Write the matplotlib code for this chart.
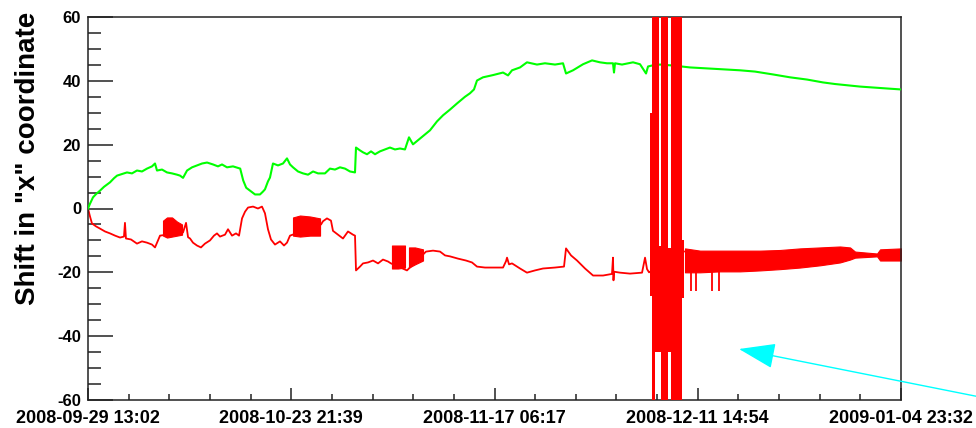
import matplotlib
matplotlib.use("Agg")
import matplotlib.pyplot as plt
from matplotlib.ticker import FixedLocator, MultipleLocator
from datetime import datetime, timedelta

plt.rcParams['font.family'] = ['Liberation Sans', 'DejaVu Sans']
plt.rcParams['axes.unicode_minus'] = False

# time axis: days since the first sample
t_start = datetime(2008, 9, 29, 13, 2)
t_span = 97.4375
n_major = 4

# green trace
green_day = [0, 0.24, 0.60, 0.96, 1.44, 1.92, 2.64, 3.12, 3.48, 4.07, 4.67, 5.27, 5.87, 6.47,
             7.07, 7.67, 8.03, 8.27, 8.87, 9.47, 10.07, 10.67, 11.03, 11.39, 11.87, 12.47,
             13.07, 13.67, 14.27, 14.98, 15.58, 16.06, 16.66, 17.38, 18.24, 18.60, 18.96,
             19.42, 20.02, 20.61, 20.97, 21.21, 21.57, 21.81, 22.17, 22.77, 23.37, 23.85,
             24.21, 24.57, 25.17, 25.77, 26.37, 26.97, 27.57, 28.40, 29.00, 29.60, 30.20,
             30.80, 31.40, 32.00, 32.12, 32.60, 32.96, 33.44, 33.92, 34.40, 34.99, 35.59,
             36.19, 36.79, 37.39, 37.99, 38.47, 38.95, 39.79, 40.99, 41.83, 42.55, 43.39,
             44.22, 45.18, 45.78, 46.26, 46.62, 47.34, 48.54, 49.74, 50.34, 50.82, 51.78,
             52.61, 53.81, 54.77, 55.97, 56.93, 57.29, 58.13, 59.33, 60.41, 61.36, 62.20,
             62.92, 63.04, 63.16, 64.00, 65.32, 66.16, 66.88, 67.12, 67.60, 68.55, 70.11,
             72.14, 74.18, 76.10, 78.14, 79.94, 82.10, 84.14, 86.18, 88.09, 89.53, 90.97,
             92.53, 94.09, 95.77, 97.44]
green_val = [0, 1.5, 3.5, 4.5, 5.6, 6.8, 8.2, 9.5, 10.3, 10.8, 11.3, 11.0, 11.9, 11.6,
             12.5, 13.2, 14.1, 11.9, 12.2, 11.3, 11.0, 10.6, 10.3, 9.6, 11.9, 12.9,
             13.5, 14.1, 14.4, 13.8, 13.2, 13.8, 12.9, 13.2, 12.5, 8.8, 6.5,
             5.6, 4.4, 4.4, 5.3, 6.0, 8.5, 9.7, 14.1, 13.5, 14.1, 15.7,
             13.8, 12.9, 11.6, 11.0, 10.6, 11.6, 11.0, 11.0, 12.5, 12.2, 12.9,
             12.5, 11.6, 11.3, 19.1, 18.2, 17.6, 17.0, 17.9, 17.0, 17.9, 18.5,
             19.1, 18.5, 18.8, 18.5, 22.3, 20.1, 21.9, 24.5, 27.3, 29.2, 31.0,
             32.9, 35.0, 36.1, 37.3, 40.1, 41.1, 41.8, 42.6, 41.7, 43.3, 44.2,
             45.8, 45.1, 45.5, 45.1, 45.5, 42.3, 43.3, 45.2, 46.4, 45.8, 45.5,
             45.5, 42.6, 45.5, 45.1, 45.8, 45.2, 42.3, 44.5, 44.8, 45.1, 44.8,
             44.2, 43.9, 43.6, 43.3, 42.9, 42.0, 41.1, 40.4, 39.5, 39.0, 38.6,
             38.2, 37.9, 37.6, 37.3]

# red trace (single line part)
red_day = [0, 0.24, 0.48, 0.96, 1.44, 2.04, 2.64, 3.24, 3.84, 4.31, 4.43, 4.55, 5.15, 5.87,
           6.47, 7.07, 7.67, 8.03, 8.39, 8.63, 11.39, 11.75, 11.99, 12.23, 12.58, 13.06,
           13.54, 14.02, 14.62, 15.10, 15.46, 15.82, 16.42, 16.78, 17.26, 17.74, 18.10,
           18.46, 18.82, 19.18, 19.78, 20.37, 20.85, 21.21, 21.57, 21.93, 22.41, 23.01,
           23.49, 23.85, 24.21, 27.93, 28.16, 28.64, 29.12, 29.36, 29.96, 30.56, 31.16,
           31.76, 32.00, 32.12, 32.60, 32.96, 33.56, 34.16, 34.76, 35.35, 35.95, 36.31,
           38.23, 40.51, 41.35, 42.19, 42.79, 43.39, 44.34, 45.30, 46.02, 46.62, 47.58,
           49.74, 50.10, 50.22, 50.46, 50.82, 51.78, 52.61, 53.57, 54.53, 55.97, 57.05,
           57.29, 57.89, 58.61, 59.57, 60.53, 61.73, 62.80, 62.92, 62.98, 63.04, 63.76,
           64.96, 66.40, 66.64, 66.76, 67.00, 67.24, 71.43]
red_val = [0, -2.5, -4.7, -5.6, -6.3, -7.2, -7.8, -8.5, -9.1, -8.8, -4.5, -9.4, -9.7, -11.0,
           -10.3, -10.7, -11.3, -12.2, -10.0, -8.5, -7.5, -4.5, -9.0, -9.4, -10.7, -11.6,
           -12.2, -11.0, -10.0, -8.5, -7.8, -8.8, -8.2, -6.5, -8.5, -7.8, -8.5,
           -3.1, -1.0, 0.3, 0.6, 0.0, 0.6, -1.5, -6.5, -9.7, -11.3, -10.3,
           -11.6, -10.7, -8.5, -5.0, -4.0, -3.1, -3.8, -7.0, -8.2, -9.4, -7.2,
           -8.2, -8.5, -19.4, -18.2, -17.2, -16.9, -16.3, -17.2, -16.0, -16.6, -17.2,
           -19.4, -13.5, -13.2, -13.5, -14.7, -15.0, -15.7, -16.3, -16.9, -18.2, -18.5,
           -18.5, -16.5, -15.4, -17.5, -17.2, -18.8, -20.1, -19.4, -18.8, -18.5, -18.2,
           -12.5, -14.7, -16.3, -18.8, -21.0, -21.0, -20.5, -15.4, -22.5, -19.8, -20.1,
           -20.4, -20.1, -17.0, -15.4, -19.0, -20.0, -13.5]

# red: densely oscillating stretches, given as min / max envelopes
band_day = [[8.99, 9.47, 10.07, 10.67, 11.27],
            [24.57, 25.41, 26.61, 27.81],
            [36.43, 37.15, 37.99],
            [38.47, 39.19, 40.15],
            [71.55, 73.35, 75.74, 78.14, 80.54, 82.94, 85.33, 87.73, 90.13, 91.33, 91.93,
             94.57, 94.93, 97.44]]
band_lo = [[-8.5, -9.1, -8.8, -8.5, -8.2],
           [-8.5, -8.8, -8.5, -8.5],
           [-18.8, -18.8, -18.5],
           [-18.5, -17.5, -16.3],
           [-20.0, -20.0, -19.7, -19.7, -19.4, -19.0, -18.5, -17.8, -16.9, -16.0, -15.4,
            -15.0, -16.3, -16.3]]
band_hi = [[-3.8, -2.8, -2.8, -4.1, -5.0],
           [-2.8, -2.2, -2.5, -3.1],
           [-11.6, -11.6, -11.6],
           [-12.2, -12.2, -12.8],
           [-12.5, -13.2, -13.2, -13.2, -13.2, -13.0, -12.5, -12.2, -11.9, -12.2, -13.5,
            -14.1, -12.8, -12.5]]

# red: downward spikes after the blow-up
spike_day = [72.27, 72.87, 74.79, 75.62]
spike_lo = [-26.0, -26.0, -25.7, -25.7]
spike_hi = [-19.0, -19.0, -19.0, -19.0]

# red: the blow-up around 2008-12-08 (start day, end day, min, max)
osc_day0 = [67.36, 67.60, 67.96, 68.44, 68.68, 69.52, 69.88, 71.19]
osc_day1 = [67.60, 67.96, 68.44, 68.68, 69.52, 69.88, 71.19, 71.43]
osc_lo = [-27.3, -70, -45, -45, -70, -45, -70, -28]
osc_hi = [29.8, 70, 70, -11.6, 70, -12.5, 70, -10]

W, H = 976, 428
fig = plt.figure(figsize=(W / 100, H / 100), dpi=100)
ax = fig.add_axes([88 / W, 1 - 400 / H, (901 - 88) / W, (400 - 17) / H])

red = '#ff0000'
green = '#00ff00'

ax.plot(green_day, green_val, color=green, lw=1.5, zorder=3)
ax.plot(red_day, red_val, color=red, lw=1.3, zorder=2)
for bx, blo, bhi in zip(band_day, band_lo, band_hi):
    ax.fill_between(bx, blo, bhi, color=red, lw=0.8, zorder=2)
ax.vlines(spike_day, spike_lo, spike_hi, color=red, lw=1.3, zorder=2)
widths = [b - a for a, b in zip(osc_day0, osc_day1)]
heights = [h - l for l, h in zip(osc_lo, osc_hi)]
ax.bar(osc_day0, heights, width=widths, bottom=osc_lo, align='edge',
       color=red, lw=0, zorder=4)

ax.set_xlim(0, t_span)
ax.set_ylim(-60, 60)

major = [t_span * i / n_major for i in range(n_major + 1)]
ax.xaxis.set_major_locator(FixedLocator(major))
ax.xaxis.set_minor_locator(MultipleLocator(t_span / n_major / 5))
ax.set_xticklabels([(t_start + timedelta(days=d)).strftime('%Y-%m-%d %H:%M') for d in major])
ax.yaxis.set_major_locator(MultipleLocator(20))
ax.yaxis.set_minor_locator(MultipleLocator(5))

for lab in ax.get_xticklabels():
    lab.set_fontweight('bold')
    lab.set_fontsize(13)
for lab in ax.get_yticklabels():
    lab.set_fontweight('bold')
    lab.set_fontsize(12)

ax.tick_params(which='both', direction='in', width=1.1, color='#222222',
               top=False, right=False)
ax.tick_params(axis='y', which='major', length=18, pad=5)
ax.tick_params(axis='y', which='minor', length=9.4)
ax.tick_params(axis='x', which='major', length=8.6, pad=7)
ax.tick_params(axis='x', which='minor', length=4.3)
for sp in ax.spines.values():
    sp.set_linewidth(1.1)
    sp.set_color('#222222')

fig.text(28 / W, 1 - 158 / H, 'Shift in "x" coordinate', rotation=90,
         ha='center', va='center', fontsize=20, fontweight='bold')

ax.annotate('', xy=(739, H - 349), xycoords='figure pixels',
            xytext=(995, H - 400), textcoords='figure pixels',
            arrowprops=dict(arrowstyle='-|>,head_length=2.3,head_width=0.8',
                            mutation_scale=10, color='#00ffff', lw=1.0,
                            shrinkA=0, shrinkB=0),
            annotation_clip=False)

fig.savefig('out.png', dpi=100)
